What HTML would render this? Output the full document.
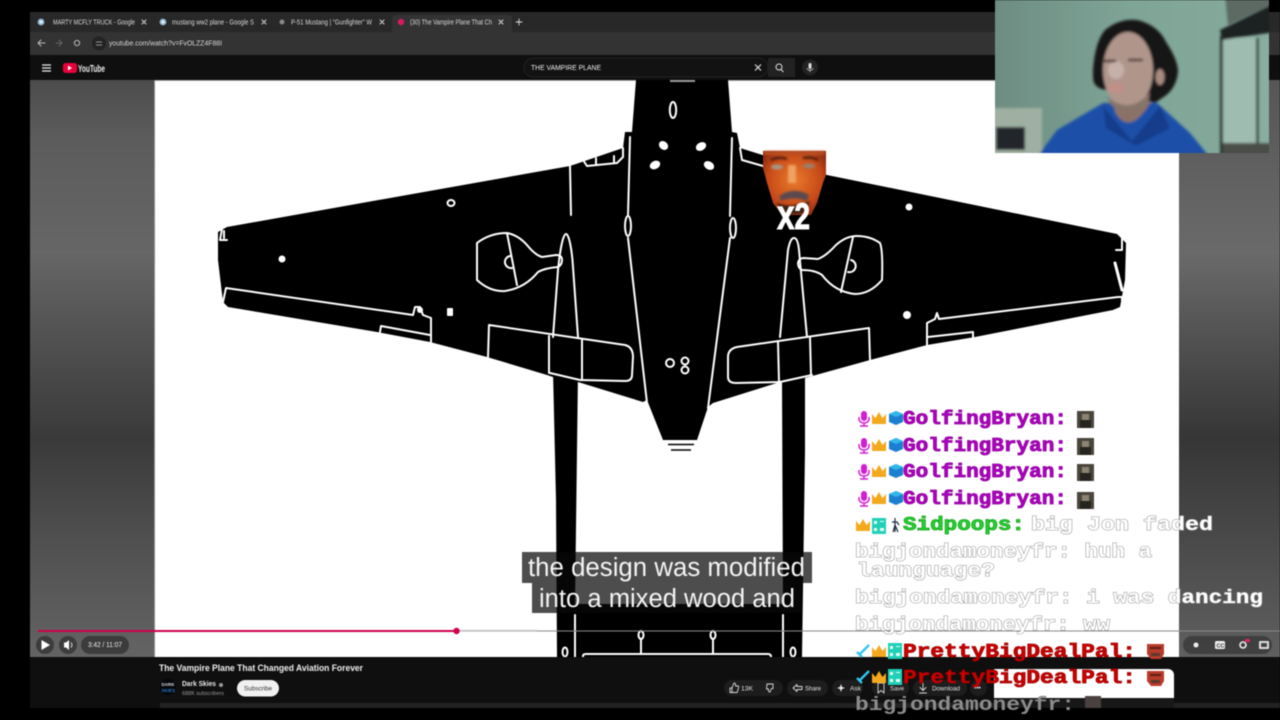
<!DOCTYPE html>
<html><head><meta charset="utf-8"><title>The Vampire Plane</title>
<style>
html,body{margin:0;padding:0;background:#000;width:1280px;height:720px;overflow:hidden}
svg{display:block;filter:blur(.4px)}
text{font-family:"Liberation Sans",sans-serif}
.ch{font-family:"Liberation Mono",monospace;font-weight:bold;font-size:19px}
.g{fill:#fff;stroke:#9a9a9a;stroke-width:1;paint-order:stroke}
.m{fill:#b400c8;stroke:#8a0098;stroke-width:.8}
.r{fill:#d00000;stroke:#a00000;stroke-width:.8}
.t{fill:#d8d8d8;font-size:7px}
.w{fill:none;stroke:#fff;stroke-width:2;stroke-linejoin:round;stroke-linecap:round}
.b{fill:#e4e4e4;font-size:6.5px}
.p{fill:#1d1d1d}
</style></head><body>
<svg width="1280" height="720" viewBox="0 0 1280 720" xmlns="http://www.w3.org/2000/svg">
<defs>
<linearGradient id="lp" x1="0" y1="0" x2="0" y2="1"><stop offset="0" stop-color="#4c4c4c"/><stop offset=".1" stop-color="#5c5c5c"/><stop offset=".3" stop-color="#666"/><stop offset=".42" stop-color="#555"/><stop offset=".62" stop-color="#3a3a3a"/><stop offset=".8" stop-color="#505050"/><stop offset="1" stop-color="#646464"/></linearGradient>
<linearGradient id="rp" x1="0" y1="0" x2="0" y2="1"><stop offset="0" stop-color="#565656"/><stop offset=".3" stop-color="#6a6a6a"/><stop offset=".42" stop-color="#565656"/><stop offset=".62" stop-color="#363636"/><stop offset=".82" stop-color="#4c4c4c"/><stop offset="1" stop-color="#606060"/></linearGradient>
<linearGradient id="wall" x1="0" y1="0" x2="1" y2="0"><stop offset="0" stop-color="#6e8d82"/><stop offset=".5" stop-color="#7fa597"/><stop offset="1" stop-color="#86ab9d"/></linearGradient>
<radialGradient id="fc" cx=".5" cy=".45" r=".6"><stop offset="0" stop-color="#e87a2c"/><stop offset=".7" stop-color="#c84a18"/><stop offset="1" stop-color="#8c2c14"/></radialGradient>
<filter id="bl" x="-5%" y="-5%" width="110%" height="110%"><feGaussianBlur stdDeviation="1.200"/></filter>
<filter id="bl2" x="-5%" y="-5%" width="110%" height="110%"><feGaussianBlur stdDeviation="1"/></filter>
<clipPath id="cam"><rect x="995" y="0" width="274" height="153"/></clipPath>
<symbol id="mic" viewBox="0 0 14 16" width="14" height="16"><rect x="4" y="0" width="6" height="10" rx="3" fill="#d020d0"/><path d="M2 6v2c0 3 3 4 5 4s5-1 5-4V6M7 12v3M3 15h8" fill="none" stroke="#d020d0" stroke-width="1.500"/></symbol>
<symbol id="crown" viewBox="0 0 14 12" width="14" height="12"><polygon points="0,2 3.500,6 7,0 10.500,6 14,2 14,12 0,12" fill="#f4a81c"/></symbol>
<symbol id="cube" viewBox="0 0 14 14" width="14" height="14"><polygon points="7,0 14,3 14,11 7,14 0,11 0,3" fill="#1c7ed0"/><polygon points="7,0 14,3 7,6 0,3" fill="#30b8e8"/></symbol>
<symbol id="pix" viewBox="0 0 14 16" width="14" height="16"><rect width="14" height="16" fill="#20d0b8"/><path d="M2 3h3v3H2zM8 3h4v1H8zM2 10h3v3H2zM8 10h4v3H8z" fill="#e8fff8"/></symbol>
<symbol id="sw" viewBox="0 0 14 14" width="14" height="14"><path d="M13 1 3 11M1 8l5 5" fill="none" stroke="#30c8f0" stroke-width="2.400"/></symbol>
<symbol id="em" viewBox="0 0 17 17" width="17" height="17"><rect width="17" height="17" fill="#4a463c"/><rect x="5" y="3" width="7" height="6" fill="#8c8472"/><rect x="3" y="9" width="11" height="8" fill="#26241e"/></symbol>
<symbol id="em2" viewBox="0 0 17 17" width="17" height="17"><path d="M0 1h17v10l-3 5H4L0 11z" fill="#b83a28"/><rect x="3" y="4" width="11" height="2" fill="#5a2018"/><rect x="4" y="10" width="9" height="3" fill="#5a3a30"/></symbol>
</defs>
<rect width="1280" height="720" fill="#000"/>

<!-- browser chrome -->
<rect x="30" y="12" width="1250" height="20" fill="#282828"/>
<rect x="30" y="32" width="1250" height="23" fill="#333"/>
<rect x="30" y="55" width="1250" height="25" fill="#0f0f0f"/>
<path d="M392 32v-13a4 4 0 0 1 4-4h112a4 4 0 0 1 4 4v13z" fill="#333"/>
<circle cx="41" cy="22" r="3.400" fill="#8fb8d8"/><circle cx="41" cy="22" r="1.500" fill="#eee"/><circle cx="163" cy="22" r="3.400" fill="#8fb8d8"/><circle cx="163" cy="22" r="1.500" fill="#eee"/><circle cx="282" cy="22" r="2.500" fill="#888"/><circle cx="401" cy="22" r="3.200" fill="#d81b60"/>
<text x="53" y="24.500" class="t" textLength="82" lengthAdjust="spacingAndGlyphs">MARTY MCFLY TRUCK - Google</text>
<text x="172" y="24.500" class="t" textLength="82" lengthAdjust="spacingAndGlyphs">mustang ww2 plane - Google S</text>
<text x="291" y="24.500" class="t" textLength="81" lengthAdjust="spacingAndGlyphs">P-51 Mustang | "Gunfighter" W</text>
<text x="410" y="24.500" class="t" textLength="82" lengthAdjust="spacingAndGlyphs" fill="#eee">(30) The Vampire Plane That Ch</text>
<g class="w" style="stroke:#ddd;stroke-width:.9"><path d="M142 20l4 4M146 20l-4 4M262 20l4 4M266 20l-4 4M380 20l4 4M384 20l-4 4M499 20l4 4M503 20l-4 4M519 19v6M516 22h6"/></g>
<g class="w" style="stroke:#bbb;stroke-width:1"><path d="M38 43h7M38 43l3-3M38 43l3 3"/><path d="M56 43h6M62 43l-3-3M62 43l-3 3" style="stroke:#666"/><circle cx="77" cy="43" r="2.600"/></g>
<circle cx="99" cy="43.500" r="7" fill="#232323"/><path d="M96 42h6M96 45h6" stroke="#bbb" stroke-width=".8"/>
<text x="109" y="45.500" font-size="7" fill="#d8d8d8" textLength="113" lengthAdjust="spacingAndGlyphs">youtube.com/watch?v=FvOLZZ4F88I</text>
<path d="M42 65h9M42 68h9M42 71h9" stroke="#eee" stroke-width="1.200" fill="none"/>
<rect x="63" y="63" width="14" height="10" rx="2.500" fill="#e8003c"/><polygon points="68,65.500 68,70.500 72,68" fill="#fff"/>
<text x="78" y="72" font-size="10" font-weight="bold" fill="#eee" textLength="27" lengthAdjust="spacingAndGlyphs">YouTube</text>
<rect x="524" y="58" width="244" height="19" rx="9.500" fill="#121212" stroke="#2a2a2a" stroke-width=".7"/>
<rect x="768" y="58" width="27" height="19" fill="#222"/>
<text x="531" y="70" font-size="7" fill="#eee" textLength="70" lengthAdjust="spacingAndGlyphs">THE VAMPIRE PLANE</text>
<path d="M755 64.500l6 6M761 64.500l-6 6" stroke="#ddd" stroke-width="1.200"/>
<circle cx="779" cy="67" r="3" fill="none" stroke="#ddd"/><path d="M781 69.500l2.500 2.500" stroke="#ddd"/>
<circle cx="810" cy="67.500" r="8" fill="#222"/><rect x="808.500" y="63" width="3" height="6" rx="1.500" fill="#ddd"/><path d="M807 68c0 3 6 3 6 0M810 70v2" stroke="#ddd" stroke-width=".7" fill="none"/>

<!-- video -->
<rect x="30" y="80" width="125" height="577" fill="url(#lp)"/>
<rect x="1179" y="80" width="101" height="577" fill="url(#rp)"/>
<rect x="154" y="80" width="1" height="577" fill="#8a8a8a"/>
<rect x="155" y="80" width="1024" height="577" fill="#fff"/>
<rect x="155" y="80" width="1024" height="1" fill="#aaa"/>

<!-- booms + tail -->
<polygon points="553,370 578,370 577,450 575,604 783,604 782,380 805,375 805,450 802,657 557,657 556,500" fill="#000"/>
<!-- main plane -->
<polygon fill="#000" points="636,80 728,80 732,132 737,133 740,148 827,175 1117,234 1126,243 1125,280 1120,307 1113,310 975,337 927,345 870,360 805,378 780,382 713,403 708,407 697,440 663,440 647,400 643,402 578,382 553,377 547,375 487,357 430,342 377,332 228,307 223,302 218,260 218,232 227,227 570,166 623,148 625,132 632,132"/>
<rect x="670" y="80" width="25" height="2" fill="#999"/>
<g class="w">
 <!-- fuselage lines -->
 <path d="M630 137 628 215M628 238 647 403"/><ellipse cx="628" cy="226" rx="3" ry="10"/>
 <path d="M732 138 730 216M730 238 708 408"/><ellipse cx="733" cy="228" rx="3" ry="10"/>
 <!-- left wing -->
 <path d="M570 166 571 215"/>
 <path d="M583 160 587 166 617 163 623 157 623 148M596 158v7M614 156v7"/>
 <path d="M562 260Q562 255 556 255L542 257Q535 255 527 245 518 235 507 233 490 233 477 243L477 280Q490 292 505 291 525 288 538 272 545 268 558 267 562 265 562 260Z"/>
 <path d="M507 233 517 285"/><path d="M510 256a6 6 0 1 0 2 12"/>
 <path d="M553 337 558 270C560 250 563 234 566 234C569 234 572 250 573 267L578 337"/>
 <path d="M223 302 226 288 413 315 415 307 420 307 423 315 431 318 431 342"/>
 <path d="M380 332 381 326 430 335"/>
 <path d="M488 357 489 325 625 345Q633 347 633 357L632 375Q632 381 625 381L580 380 550 373"/>
 <path d="M549 336V373M582 340V380"/>
 <path d="M222 229 220 240 227 240M224 231V238"/>
 <!-- right wing -->
 <path d="M740 148 742 160 763 166"/>
 <path d="M798 263Q799 258 804 258L818 259Q826 256 836 245 846 236 857 236 870 236 880 243 883 250 882 280 870 294 855 294 835 292 822 275 815 270 802 270 798 268 798 263Z"/>
 <path d="M853 237 841 292"/><path d="M851 260a6 6 0 1 1-3 12"/>
 <path d="M780 337 788 250C790 240 792 238 794 238C796 238 798 240 799 250L807 337"/>
 <path d="M870 360 869 328 737 347Q728 349 728 357L728 377Q728 383 736 383L780 382 812 375"/>
 <path d="M778 342 779 382M810 337 811 375"/>
 <path d="M927 345 927 323 935 319 937 313 939 319 1118 297 1122 297 1122 307"/>
 <path d="M928 337 973 332 973 337"/>
 <path d="M1122 238V250L1116 250"/>
 <path d="M1115 263 1122 290" style="stroke-width:3"/>
 <!-- rings -->
 <ellipse cx="451" cy="203" rx="3.500" ry="3"/>
 <ellipse cx="673" cy="110" rx="3.200" ry="8"/>
 <circle cx="670" cy="363" r="4"/>
 <circle cx="685" cy="361" r="3.500"/><circle cx="685" cy="370" r="3.500"/>
 <!-- tail details -->
 <path d="M575 615V657M783 615V657"/>
 <path d="M583 657V656Q583 654 586 654H768Q771 654 771 657"/>
 <path d="M641 639V654M713 639V654"/><ellipse cx="641" cy="635" rx="2.500" ry="4"/><ellipse cx="713" cy="635" rx="2.500" ry="4"/>
 <ellipse cx="565" cy="652" rx="2.500" ry="4.500"/><ellipse cx="793" cy="652" rx="2.500" ry="4.500"/>
</g>
<!-- white marks -->
<g fill="#fff">
 <circle cx="282" cy="259" r="3.500"/><rect x="447" y="308" width="6" height="8" rx="1"/><circle cx="420" cy="310" r="3"/>
 <ellipse cx="663.500" cy="145.500" rx="5" ry="4" transform="rotate(40 663.500 145.500)"/>
 <ellipse cx="655" cy="165" rx="5.500" ry="4" transform="rotate(-25 655 165)"/>
 <ellipse cx="701" cy="146.500" rx="5.500" ry="4" transform="rotate(-30 701 146.500)"/>
 <ellipse cx="709" cy="165.500" rx="5.500" ry="4" transform="rotate(30 709 165.500)"/>
 <circle cx="909" cy="207" r="3.500"/><circle cx="907" cy="315" r="4"/>
</g>
<!-- tail exhaust -->
<path d="M667 442h28M669 446.500h24" stroke="#fff" stroke-width="1" fill="none"/>
<path d="M668 444.500h26M671 450h20" stroke="#000" stroke-width="1.600" fill="none"/>

<!-- progress -->
<rect x="537" y="630.500" width="743" height="1" fill="#8a8a8a"/>
<rect x="456" y="630" width="81" height="1.600" fill="#bbb"/>
<rect x="38" y="630" width="418" height="2" fill="#d0004c"/><circle cx="456.500" cy="631" r="3.200" fill="#d0004c"/>

<!-- captions -->
<rect x="522" y="552" width="290" height="31" fill="#080808" fill-opacity=".72"/>
<rect x="532" y="583" width="270" height="30" fill="#080808" fill-opacity=".72"/>
<text x="528" y="576" font-size="25.500" fill="#f4f4f4" textLength="277" lengthAdjust="spacingAndGlyphs">the design was modified</text>
<text x="539" y="607" font-size="25.500" fill="#f4f4f4" textLength="256" lengthAdjust="spacingAndGlyphs">into a mixed wood and</text>

<!-- controls -->
<circle cx="45" cy="645" r="9" fill="#333" fill-opacity=".8"/><polygon points="41.500,640 41.500,650 50,645" fill="#fff"/>
<circle cx="68" cy="645" r="9" fill="#333" fill-opacity=".8"/><polygon points="64,642.500 66,642.500 69,640 69,650 66,647.500 64,647.500" fill="#fff"/><path d="M71 642.500q2 2.500 0 5" stroke="#ddd" fill="none"/>
<rect x="81" y="636" width="48" height="18" rx="9" fill="#333" fill-opacity=".8"/>
<text x="88" y="647" font-size="7" fill="#eee" textLength="34" lengthAdjust="spacingAndGlyphs">3:42 / 11:07</text>
<rect x="1183" y="636" width="89" height="18" rx="9" fill="#333" fill-opacity=".7"/>
<circle cx="1196" cy="645" r="2.500" fill="#eee"/>
<rect x="1215" y="641" width="10" height="8" rx="1.500" fill="#eee"/><text x="1216.500" y="647.500" font-size="5.500" font-weight="bold" fill="#333">CC</text>
<circle cx="1243" cy="645" r="3" fill="none" stroke="#eee" stroke-width="1.600"/><rect x="1245" y="639" width="5" height="3" rx="1" fill="#e0245e"/>
<rect x="1259" y="641" width="10" height="8" rx="1" fill="#ddd"/><rect x="1261" y="643" width="6" height="4" fill="#444"/>

<!-- below player -->
<rect x="30" y="657" width="1250" height="51" fill="#0f0f0f"/>
<rect x="160" y="703" width="1120" height="5" fill="#222"/>
<text x="159" y="671" font-size="9" font-weight="bold" fill="#eee" textLength="204" lengthAdjust="spacingAndGlyphs">The Vampire Plane That Changed Aviation Forever</text>
<circle cx="168" cy="687" r="8" fill="#05070c"/>
<text x="161.500" y="686" font-size="4.500" font-weight="bold" fill="#ddd">DARK</text><text x="161.500" y="692" font-size="4.500" font-weight="bold" fill="#2a78c8">SKIES</text>
<text x="182" y="686" font-size="7" font-weight="bold" fill="#e8e8e8" textLength="34" lengthAdjust="spacingAndGlyphs">Dark Skies</text><circle cx="221" cy="685" r="2" fill="#999"/>
<text x="182" y="695" font-size="5.500" fill="#999" textLength="42" lengthAdjust="spacingAndGlyphs">688K subscribers</text>
<rect x="237" y="680" width="42" height="16.500" rx="8.250" fill="#f1f1f1"/>
<text x="244" y="690.500" font-size="6.500" fill="#333" textLength="28" lengthAdjust="spacingAndGlyphs">Subscribe</text>

<rect x="724" y="680" width="59" height="16" rx="8" class="p"/><rect x="787" y="680" width="41" height="16" rx="8" class="p"/><rect x="832" y="680" width="31" height="16" rx="8" class="p"/><rect x="872" y="680" width="37" height="16" rx="8" class="p"/><rect x="913" y="680" width="54" height="16" rx="8" class="p"/><rect x="970" y="680" width="17" height="16" rx="8" class="p"/>
<g class="w" style="stroke:#ddd;stroke-width:.9"><path d="M730 688h2l2-5q2 0 1.500 3h2.500q1 0 .5 1.500l-1 4q0 1-1 1h-4.500v-4.500M730 688v4.500h2"/><path d="M767 684h6v4.500h-1.500l-1.500 3.500q-2 0-1.500-3h-2z"/><path d="M793 688l4-3.500v2h5v3h-5v2z"/><path d="M878 683h6v10l-3-2.500-3 2.500z"/><path d="M923 683v7M920 687.500l3 3 3-3M919.500 693h7"/></g>
<path d="M841 684l1 3 3 1-3 1-1 3-1-3-3-1 3-1z" fill="#eee"/>
<g class="b"><text x="741" y="690.500" textLength="12" lengthAdjust="spacingAndGlyphs">13K</text><text x="805" y="690.500" textLength="16" lengthAdjust="spacingAndGlyphs">Share</text><text x="850" y="690.500" textLength="11" lengthAdjust="spacingAndGlyphs">Ask</text><text x="890" y="690.500" textLength="14" lengthAdjust="spacingAndGlyphs">Save</text><text x="932" y="690.500" textLength="28" lengthAdjust="spacingAndGlyphs">Download</text><text x="974" y="689.500" font-weight="bold">•••</text></g>
<path d="M994 698V669H1168a6 6 0 0 1 6 6V698Z" fill="#fff"/>
<rect x="994" y="698" width="180" height="10" fill="#181818"/>

<!-- webcam -->
<rect x="995" y="0" width="274" height="153" fill="url(#wall)"/>
<g clip-path="url(#cam)"><g filter="url(#bl)">
<rect x="990" y="108" width="52" height="50" fill="#9fb0a2"/><rect x="996" y="127" width="29" height="23" fill="#24282a"/>
<rect x="1222" y="38" width="36" height="105" fill="#9fbcb0"/><rect x="1258" y="38" width="15" height="105" fill="#89aea0"/>
<rect x="1220" y="36" width="3" height="120" fill="#2c3432"/><rect x="1256" y="38" width="3" height="105" fill="#3c4a46"/>
<polygon points="1220,30 1275,3 1275,32 1222,40" fill="#1e2422"/><polygon points="1225,-5 1275,-5 1275,3 1228,25" fill="#5c6a64"/>
<rect x="1223" y="143" width="52" height="14" fill="#4c4e48"/>
<polygon points="1035,160 1057,130 1103,103 1157,103 1190,133 1212,160" fill="#1e4fa8"/>
<polygon points="1103,106 1132,141 1160,106 1170,128 1136,146 1106,128" fill="#163e8c"/>
<path d="M1112 95 L1115 112 Q1130 138 1152 100Z" fill="#8a7268"/>
<path d="M1093 70Q1095 42 1105 30 1120 18 1137 20 1158 25 1166 42 1178 60 1178 72 1176 90 1162 98L1155 103 1110 90Q1094 90 1093 78Z" fill="#191516"/>
<ellipse cx="1128" cy="70" rx="25" ry="38" fill="#b0958b"/>
<ellipse cx="1160" cy="77" rx="4.500" ry="8" fill="#a88a80"/>
<ellipse cx="1116" cy="70" rx="8" ry="9" fill="#c6b0aa"/>
<path d="M1102 61h14M1128 60h15" stroke="#4a3832" stroke-width="2.500"/>
<ellipse cx="1116" cy="88" rx="9" ry="5" fill="#c09088"/>
<path d="M1106 96Q1130 116 1150 92L1148 106Q1130 112 1112 106Z" fill="#86746a"/>
</g></g>

<!-- meme face -->
<path d="M763 151H826V175L823 183 817 203 811 215 782 215 773 203 767 183 763 168Z" fill="url(#fc)"/>
<g filter="url(#bl2)">
<rect x="764" y="151" width="61" height="4" fill="#b85020"/>
<path d="M771 160q8-4 16-1M803 158q8-2 15 2" stroke="#4a1a0c" stroke-width="2.500" fill="none"/>
<ellipse cx="777" cy="167" rx="6" ry="2.500" fill="#a89888"/><ellipse cx="809" cy="166" rx="6" ry="2.500" fill="#98806c"/>
<path d="M792 165v18" stroke="#f0a060" stroke-width="8"/>
<path d="M779 196q15-10 30-1l-2 6q-13-5-26 0z" fill="#5a4a50"/>
<path d="M777 203q16 6 33-2l-4 12-24 2z" fill="#3c2014"/>
</g>
<text x="777" y="229" font-weight="bold" fill="#fff" stroke="#fff" stroke-width="1" textLength="33" lengthAdjust="spacingAndGlyphs"><tspan font-size="42">x</tspan><tspan font-size="37">2</tspan></text>

<!-- chat -->
<use href="#mic" x="857" y="411"/><use href="#crown" x="872" y="412"/><use href="#cube" x="889" y="411"/>
<use href="#mic" x="857" y="438"/><use href="#crown" x="872" y="439"/><use href="#cube" x="889" y="438"/>
<use href="#mic" x="857" y="464"/><use href="#crown" x="872" y="465"/><use href="#cube" x="889" y="464"/>
<use href="#mic" x="857" y="491"/><use href="#crown" x="872" y="492"/><use href="#cube" x="889" y="491"/>
<text x="903" y="424" class="ch m" textLength="164" lengthAdjust="spacingAndGlyphs">GolfingBryan:</text>
<text x="903" y="451" class="ch m" textLength="164" lengthAdjust="spacingAndGlyphs">GolfingBryan:</text>
<text x="903" y="477" class="ch m" textLength="164" lengthAdjust="spacingAndGlyphs">GolfingBryan:</text>
<text x="903" y="504" class="ch m" textLength="164" lengthAdjust="spacingAndGlyphs">GolfingBryan:</text>
<use href="#em" x="1077" y="411"/><use href="#em" x="1077" y="438"/><use href="#em" x="1077" y="464"/><use href="#em" x="1077" y="492"/>
<use href="#crown" x="856" y="519"/><use href="#pix" x="872" y="518"/>
<path d="M895 518v14M892 522h5l2 3M895 525l-2 7M895 525l3 7" stroke="#1c2a40" stroke-width="1.200" fill="none"/>
<text x="903" y="530" class="ch" fill="#22d82c" stroke="#18a020" stroke-width=".8" textLength="122" lengthAdjust="spacingAndGlyphs">Sidpoops:</text>
<text x="1031" y="530" class="ch g" textLength="182" lengthAdjust="spacingAndGlyphs">big Jon faded</text>
<text x="855" y="557" class="ch g" textLength="297" lengthAdjust="spacingAndGlyphs">bigjondamoneyfr: huh a</text>
<text x="857" y="576" class="ch g" textLength="138" lengthAdjust="spacingAndGlyphs">launguage?</text>
<text x="855" y="603" class="ch g" textLength="408" lengthAdjust="spacingAndGlyphs">bigjondamoneyfr: i was dancing</text>
<text x="855" y="630" class="ch g" textLength="255" lengthAdjust="spacingAndGlyphs">bigjondamoneyfr: ww</text>
<use href="#sw" x="856" y="644"/><use href="#crown" x="872" y="645"/><use href="#pix" x="888" y="643"/>
<use href="#sw" x="856" y="670"/><use href="#crown" x="872" y="671"/><use href="#pix" x="888" y="669"/>
<text x="903" y="657" class="ch r" textLength="233" lengthAdjust="spacingAndGlyphs">PrettyBigDealPal:</text>
<text x="903" y="683" class="ch r" textLength="233" lengthAdjust="spacingAndGlyphs">PrettyBigDealPal:</text>
<use href="#em2" x="1147" y="643"/><use href="#em2" x="1147" y="670"/>
<text x="855" y="710" class="ch" fill="#8c8c8c" textLength="220" lengthAdjust="spacingAndGlyphs">bigjondamoneyfr:</text>
<rect x="1085" y="696" width="16" height="12" fill="#4a4040"/>
</svg>
</body></html>
